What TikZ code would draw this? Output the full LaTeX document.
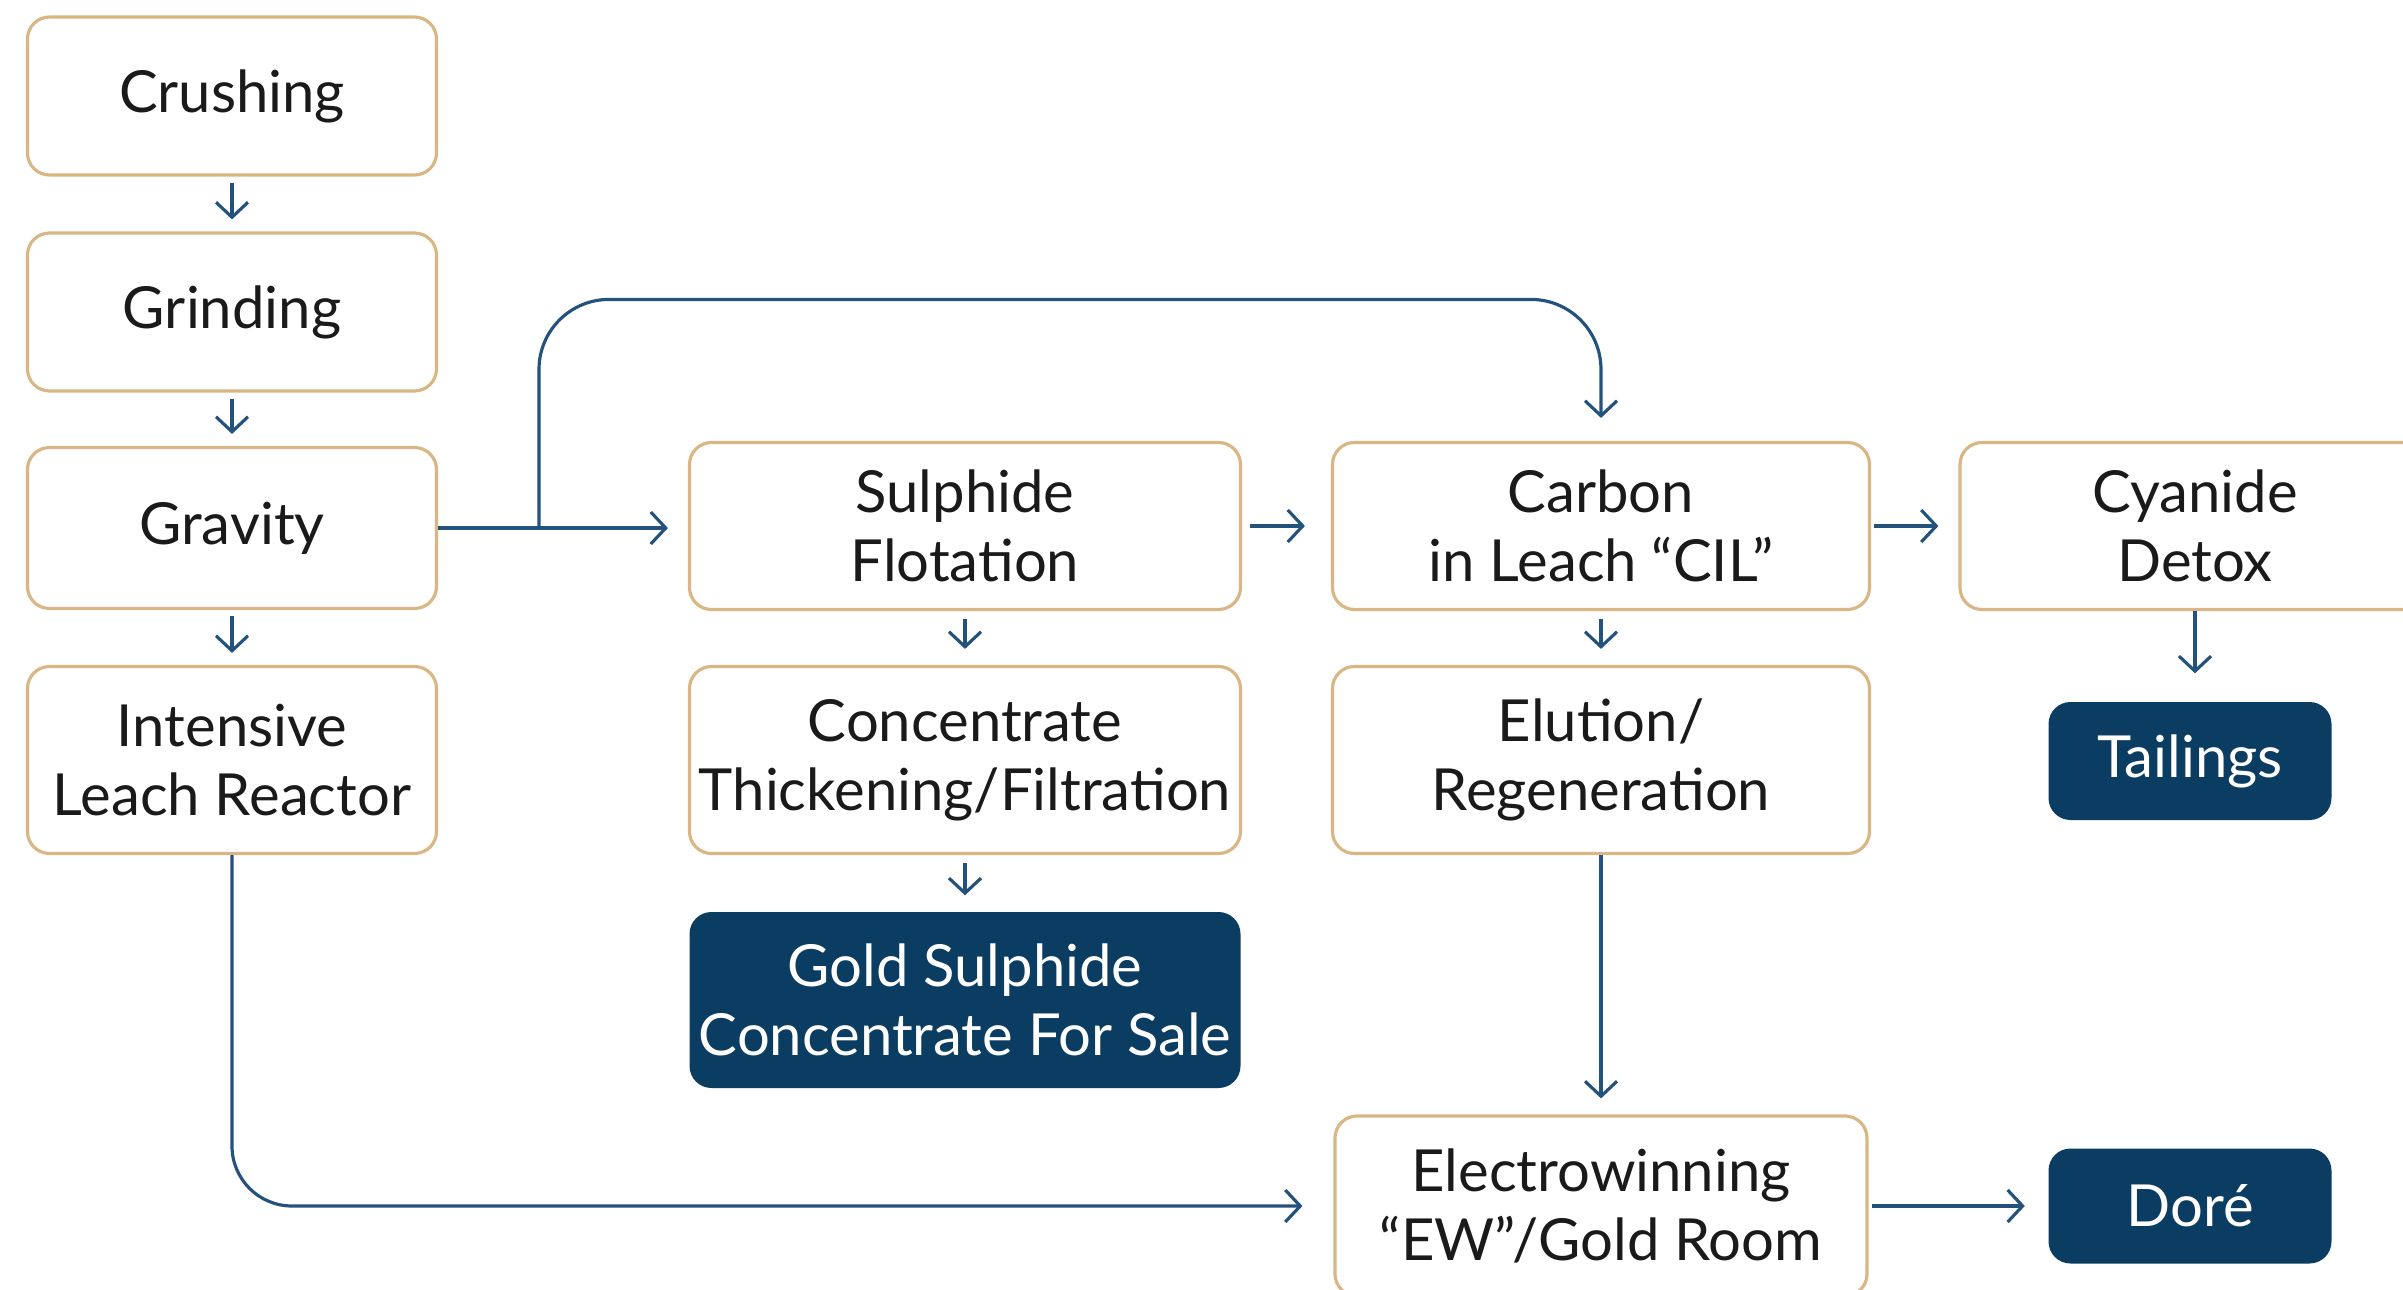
\documentclass[tikz,border=0pt]{standalone}
\usepackage{fontspec}
\setmainfont{Lato}
\usetikzlibrary{arrows.meta}
\definecolor{boxline}{HTML}{D9B683}
\definecolor{flowblue}{HTML}{23527C}
\definecolor{darkbox}{HTML}{0B3D63}
\definecolor{inktext}{HTML}{1A1A1A}
\begin{document}
\begin{tikzpicture}[
    stepbox/.style={draw=boxline, line width=0.9pt, rounded corners=0.22cm, fill=white,
        align=center, text=inktext, inner sep=0pt},
    endbox/.style={fill=darkbox, rounded corners=0.22cm, align=center, text=white, inner sep=0pt},
    flow/.style={draw=flowblue, line width=0.9pt, -{Straight Barb[length=1.5mm, width=3.2mm]}},
    font=\fontsize{16.5}{19.6}\selectfont]

\clip (0,0) rectangle (24.03,-12.90);

% left column
\node[stepbox, minimum width=4.09cm, minimum height=1.58cm] (crush) at (2.32,-0.96) {Crushing};
\node[stepbox, minimum width=4.09cm, minimum height=1.58cm] (grind) at (2.32,-3.12) {Grinding};
\node[stepbox, minimum width=4.09cm, minimum height=1.61cm] (grav) at (2.32,-5.28) {Gravity};
\node[stepbox, minimum width=4.09cm, minimum height=1.87cm] (ilr) at (2.32,-7.60) {Intensive\\Leach Reactor};

% flotation column
\node[stepbox, minimum width=5.51cm, minimum height=1.67cm] (sulph) at (9.65,-5.26) {Sulphide\\Flotation};
\node[stepbox, minimum width=5.51cm, minimum height=1.87cm] (conc) at (9.65,-7.60) {Concentrate\\Thickening/Filtration};
\node[endbox, minimum width=5.51cm, minimum height=1.76cm] (gold) at (9.65,-10.00) {Gold Sulphide\\Concentrate For Sale};

% leach column
\node[stepbox, minimum width=5.37cm, minimum height=1.67cm] (cil) at (16.01,-5.26) {Carbon\\in Leach “CIL”};
\node[stepbox, minimum width=5.37cm, minimum height=1.87cm] (elu) at (16.01,-7.60) {Elution/\\Regeneration};
\node[stepbox, minimum width=5.32cm, minimum height=1.80cm] (ew) at (16.01,-12.06) {Electrowinning\\“EW”/Gold Room};

% right column
\node[stepbox, minimum width=4.70cm, minimum height=1.67cm] (cyan) at (21.95,-5.26) {Cyanide\\Detox};
\node[endbox, minimum width=2.83cm, minimum height=1.18cm] (tail) at (21.90,-7.61) {Tailings};
\node[endbox, minimum width=2.83cm, minimum height=1.15cm] (dore) at (21.90,-12.06) {Doré};

\coordinate (split) at (5.39,-5.28);

\draw[flow, shorten <=0.06cm, shorten >=0.12cm] (crush) -- (grind);
\draw[flow, shorten <=0.06cm, shorten >=0.12cm] (grind) -- (grav);
\draw[flow, shorten <=0.06cm, shorten >=0.12cm] (grav) -- (ilr);
\draw[flow, shorten >=0.2cm] (grav) -- (grav -| sulph.west);
\draw[flow, rounded corners=0.7cm, shorten >=0.23cm] (split) |- ([yshift=1.415cm]cil.north) -- (cil.north);
\draw[flow, shorten <=0.08cm, shorten >=0.26cm] (sulph) -- (cil);
\draw[flow, shorten <=0.03cm, shorten >=0.2cm] (cil) -- (cyan);
\draw[flow, shorten >=0.28cm] (cyan.south) -- (cyan.south |- tail.north);
\draw[flow, shorten <=0.08cm, shorten >=0.16cm] (sulph) -- (conc);
\draw[flow, shorten <=0.08cm, shorten >=0.16cm] (conc) -- (gold);
\draw[flow, shorten <=0.08cm, shorten >=0.16cm] (cil) -- (elu);
\draw[flow, shorten >=0.16cm] (elu) -- (ew);
\draw[flow, rounded corners=0.6cm, shorten >=0.31cm] (ilr.south) |- (ew.west);
\draw[flow, shorten <=0.03cm, shorten >=0.23cm] (ew) -- (dore);

\end{tikzpicture}
\end{document}
